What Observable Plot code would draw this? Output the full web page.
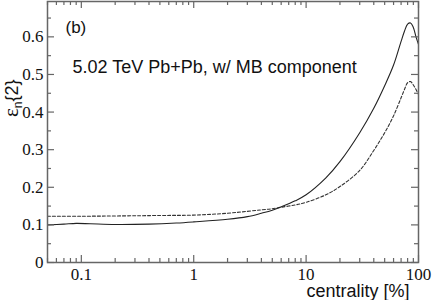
<!DOCTYPE html>
<html>
<head>
<meta charset="utf-8">
<script src="https://cdn.jsdelivr.net/npm/d3@7"></script>
<script src="https://cdn.jsdelivr.net/npm/@observablehq/plot@0.6"></script>
<style>
  html, body { margin: 0; padding: 0; background: #fff; }
  svg { display: block; }
</style>
</head>
<body>
<div id="chart"></div>
<script>
// centrality [%]
const centSolid = [0.05, 0.07, 0.09, 0.12, 0.2, 0.4, 0.7, 1, 2, 3, 4, 5, 6, 8, 10, 15, 20, 30, 40, 50, 60, 70, 75, 80, 85, 90, 95, 100];
const epsSolid  = [0.100, 0.102, 0.104, 0.103, 0.101, 0.102, 0.105, 0.108, 0.115, 0.122, 0.131, 0.139, 0.148, 0.164, 0.180, 0.225, 0.268, 0.345, 0.410, 0.470, 0.525, 0.588, 0.615, 0.634, 0.637, 0.625, 0.600, 0.580];
const centDash  = [0.05, 0.1, 0.5, 1, 2, 3, 4, 5, 6, 8, 10, 15, 20, 30, 40, 50, 60, 70, 75, 80, 85, 90, 95, 100];
const epsDash   = [0.123, 0.123, 0.125, 0.126, 0.131, 0.136, 0.140, 0.143, 0.147, 0.153, 0.160, 0.180, 0.202, 0.245, 0.298, 0.345, 0.390, 0.438, 0.460, 0.478, 0.481, 0.472, 0.460, 0.447];

const xMajor = [0.1, 1, 10, 100];
const xMajorLabels = ["0.1", "1", "10", "100"];
const xMinor = [0.05,0.06,0.07,0.08,0.09, 0.2,0.3,0.4,0.5,0.6,0.7,0.8,0.9, 2,3,4,5,6,7,8,9, 20,30,40,50,60,70,80,90];
const yMajor = [0, 0.1, 0.2, 0.3, 0.4, 0.5, 0.6];
const yMajorLabels = ["0", "0.1", "0.2", "0.3", "0.4", "0.5", "0.6"];
const yMinor = [0.05, 0.15, 0.25, 0.35, 0.45, 0.55, 0.65];

const solid = centSolid.map((c, i) => ({c, e: epsSolid[i]}));
const dashed = centDash.map((c, i) => ({c, e: epsDash[i]}));

const W = 433, H = 300, mL = 47, mR = 15, mT = 1, mB = 38;
const pw = W - mL - mR, ph = H - mT - mB;
const axisColor = "#666";
const serif = "'Liberation Serif', 'Times New Roman', serif";
const sans = "'Liberation Sans', Arial, Helvetica, sans-serif";

const chart = Plot.plot({
  width: W, height: H,
  marginLeft: mL, marginRight: mR, marginTop: mT, marginBottom: mB,
  x: {type: "log", domain: [0.05, 100], axis: null},
  y: {domain: [0, 0.694], axis: null},
  style: {background: "#fff", overflow: "visible"},
  marks: [
    Plot.line(dashed, {x: "c", y: "e", stroke: "#333", strokeWidth: 1.1, strokeDasharray: "3,2", curve: "catmull-rom"}),
    Plot.line(solid, {x: "c", y: "e", stroke: "#222", strokeWidth: 1.1, curve: "catmull-rom"}),
    // x ticks bottom & top (inward)
    Plot.tickX(xMajor, {x: d => d, insetTop: ph - 7, stroke: axisColor, strokeWidth: 1.2}),
    Plot.tickX(xMinor, {x: d => d, insetTop: ph - 4, stroke: axisColor, strokeWidth: 1.2}),
    Plot.tickX(xMajor, {x: d => d, insetBottom: ph - 7, stroke: axisColor, strokeWidth: 1.2}),
    Plot.tickX(xMinor, {x: d => d, insetBottom: ph - 4, stroke: axisColor, strokeWidth: 1.2}),
    // y ticks left & right (inward)
    Plot.tickY(yMajor, {y: d => d, insetRight: pw - 7, stroke: axisColor, strokeWidth: 1.2}),
    Plot.tickY(yMinor, {y: d => d, insetRight: pw - 4, stroke: axisColor, strokeWidth: 1.2}),
    Plot.tickY(yMajor, {y: d => d, insetLeft: pw - 7, stroke: axisColor, strokeWidth: 1.2}),
    Plot.tickY(yMinor, {y: d => d, insetLeft: pw - 4, stroke: axisColor, strokeWidth: 1.2}),
    Plot.frame({stroke: axisColor, strokeWidth: 1.5}),
    // tick labels
    Plot.text(xMajor, {x: d => d, text: (d, i) => xMajorLabels[i], frameAnchor: "bottom", dy: 17, lineAnchor: "bottom", fontFamily: serif, fontSize: 17, fill: "#111"}),
    Plot.text(yMajor, {y: d => d, text: (d, i) => yMajorLabels[i], frameAnchor: "left", dx: -4, textAnchor: "end", lineAnchor: "middle", fontFamily: serif, fontSize: 17, fill: "#111"}),
    // annotations
    Plot.text(["(b)"], {text: d => d, frameAnchor: "top-left", dx: 18, dy: 31, textAnchor: "start", lineAnchor: "bottom", fontFamily: sans, fontSize: 17, fill: "#111"}),
    Plot.text(["5.02 TeV Pb+Pb, w/ MB component"], {text: d => d, frameAnchor: "top-left", dx: 25, dy: 71, textAnchor: "start", lineAnchor: "bottom", fontFamily: sans, fontSize: 18, fill: "#111"}),
    Plot.text(["centrality [%]"], {text: d => d, frameAnchor: "bottom-right", dx: -9, dy: 34, textAnchor: "end", lineAnchor: "bottom", fontFamily: sans, fontSize: 18, fill: "#111"})
  ]
});

document.getElementById("chart").appendChild(chart);

// y-axis label with subscript
const svg = d3.select(chart);
const t = svg.append("text")
  .attr("transform", "translate(18,117) rotate(-90)")
  .attr("text-anchor", "start")
  .attr("fill", "#111")
  .attr("font-size", 18);
t.append("tspan").attr("font-family", serif).attr("font-size", 21).text("ε");
t.append("tspan").attr("font-family", sans).attr("font-size", 12).attr("dy", 4).text("n");
t.append("tspan").attr("font-family", sans).attr("dy", -4).text("{2}");
</script>
</body>
</html>
